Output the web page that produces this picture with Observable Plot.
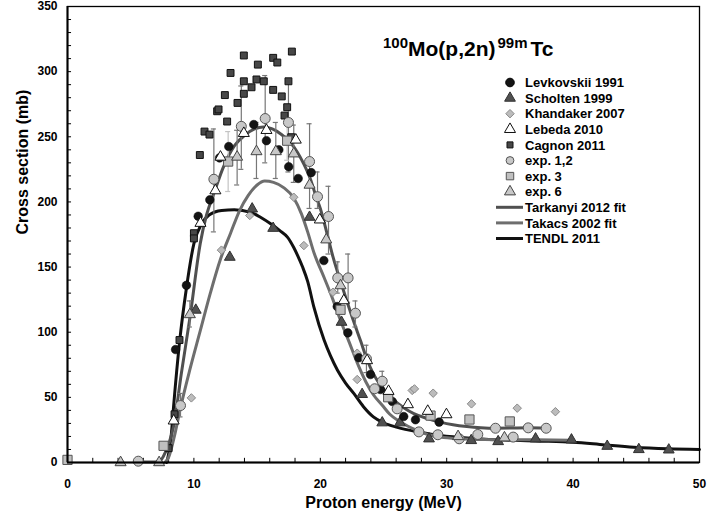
<!DOCTYPE html>
<html><head><meta charset="utf-8">
<script src="https://cdn.jsdelivr.net/npm/d3@7"></script>
<script src="https://cdn.jsdelivr.net/npm/@observablehq/plot@0.6"></script>
<style>
body{margin:0;background:#fff;}
#chart{position:relative;width:708px;height:519px;}
#chart svg{position:absolute;left:0;top:0;}
</style></head><body><div id="chart"></div>
<script>
// ---- data (E in MeV, cross section in mb) ----
const levkovskii = [[8.55,86.7],[9.41,136],[10.34,189],[11.26,201.6],[12.03,233.8],[12.76,242.5],[14.74,259.4],[15.74,247],[16.72,240],[17.5,227],[18.25,218],[19.28,222.5],[20.28,155],[21.34,119.7],[22.18,99.5],[23.05,80.4],[23.97,67.5],[24.76,56],[25.7,46.8],[26.6,35.3],[27.53,32.8],[29.4,31]];
const scholten = [[10.15,117],[12.84,157.6],[14.61,194.7],[16.27,179.8],[19.15,188.3],[21.68,107.7],[23.31,52.3],[24.9,30.5],[26.3,30.5],[28.6,18.2],[31.94,16.9],[34.07,16.1],[37.03,18.2],[39.87,17.4],[42.7,12.5],[45.2,10],[47.57,9.7]];
const khandaker = [[9.8,49.6],[12.18,163],[14.42,189.6],[17.9,203.6],[18.7,166.5],[21.0,130.7],[22.92,83.9],[22.92,63.7],[27.27,55.3],[27.45,56.5],[28.93,53.2],[31.96,45],[35.58,41.7],[38.6,39]];
const lebeda = [[8.4,32],[10.52,183.7],[11.7,208.7],[12.1,234.5],[13.95,252.7],[15.74,255],[18.06,247.6],[19.96,186.3],[21.86,124.3],[23.7,78.3],[25.4,54.7],[26.93,44.5],[28.5,39.4],[29.98,36.8]];
const cagnon = [[8.0,11],[8.47,37],[8.86,94],[10.0,176],[10.0,172],[10.47,236],[10.84,254],[11.23,251.7],[11.84,269.6],[11.95,271],[12.45,282],[12.63,261.7],[12.9,299],[13.45,276],[13.95,312.4],[13.95,292.6],[13.95,283],[14.56,288],[14.95,294],[15.06,305.4],[15.53,292.6],[16.27,310.6],[16.6,307],[16.27,286],[16.95,281],[17.17,266.3],[17.38,272.7],[17.48,292.6],[17.7,249.7],[17.75,315.4]];
const exp12 = [[5.6,1],[8.94,43.7],[11.58,217.4],[13.75,258],[15.64,264],[17.48,261],[19.15,231],[19.78,204],[20.65,188.8],[21.38,141.7],[22.2,141.7],[22.78,114.6],[23.65,79.6],[24.3,56.6],[24.9,62.4],[26.08,41.2],[27.8,23.5],[29.3,21.3],[30.99,18.2],[32.46,21.5],[33.86,26.3],[35.26,19.5],[36.45,26.6],[37.87,26.3]];
const exp3 = [[0,2],[7.6,12.8],[12.71,231],[17.38,247],[21.6,117.2],[25.37,50.1],[28.72,36],[31.8,33],[34.99,31.5]];
const exp6 = [[4.2,0],[7.25,0],[9.68,113.6],[13.42,234.5],[14.95,238.7],[16.48,238.7],[17.9,237],[19.15,213],[20.47,171],[21.6,135.8],[30.9,20],[34.57,19]];
// error bars [E, low, high]
const err12 = [[8.94,35,53],[11.58,177,256],[13.75,225,289],[15.64,230,297],[17.48,223,293],[19.15,195,260],[19.78,195,223],[20.65,160,212],[21.38,130,154],[22.2,123,160],[22.78,104,124],[23.65,69,90],[24.9,55,70]];
const err3 = [[12.71,208,254],[17.38,232,262]];
const err6 = [[9.68,104,124],[13.42,213,255],[14.95,218,261],[16.48,218,261],[17.9,215,259]];
// curves
const tarkanyiFit = [[5.6,0.8],[6.5,0.3],[7.25,0.5],[7.6,5],[8.0,14],[8.4,28],[9.0,68],[9.7,112],[10.5,168],[11.0,190],[11.6,207],[12.3,226],[13.2,243],[14.0,251],[14.8,256],[15.5,257.5],[16.2,256],[16.9,252],[17.6,246],[18.2,238],[18.7,229],[19.2,218],[19.7,203],[20.0,195],[20.5,177],[21.0,158],[21.6,139],[22.1,124],[22.65,108],[23.2,93],[23.7,79],[24.2,68],[24.8,59],[25.3,53],[25.8,48],[26.6,42],[27.4,37.5],[28.4,34],[29.5,31],[30.5,29],[31.6,27.6],[32.7,26.7],[33.86,26.3],[35,26.4],[36.45,26.6],[37.87,26.3]];
const takacsFit = [[7.7,0],[8.0,4],[8.5,22],[8.94,42],[9.7,72],[10.5,101],[11.3,130],[12.1,156],[12.9,176],[13.6,193],[14.3,205],[15.0,213],[15.6,216],[16.3,215],[17.1,211],[17.9,203],[18.5,191],[19.0,177],[19.5,161],[20.3,142],[21.0,125],[21.6,109],[22.3,92],[22.9,77],[23.6,62],[24.2,52],[24.9,44],[25.5,37],[26.2,32],[26.9,28],[27.8,24],[28.5,21.5],[29.5,19.5],[31,18.2],[33,17.6],[35,17.5],[37,17.4],[40,17]];
const tendl = [[7.85,0],[8.2,20],[8.41,45],[8.86,92],[9.41,134],[10.0,168],[10.6,183],[11.2,190],[12.2,193.5],[13.2,194],[14.5,192],[15.3,188],[16.1,183],[16.8,178],[17.4,173],[17.9,165],[18.2,159],[18.6,150],[19.0,139],[19.5,119],[20.3,94],[20.8,82],[21.35,71],[22.0,61],[22.65,53],[23.4,43],[24.2,35],[25.0,30.5],[26.1,27],[27.9,23.3],[29.5,20.7],[32,18.5],[34.3,17.4],[37,16.5],[40,15.6],[42.5,13.5],[44.8,11.7],[47.5,10.5],[50,10]];
// ticks & labels
const xTicks = [0,10,20,30,40,50];
const yTicks = [0,50,100,150,200,250,300,350];
const xMinor = d3.range(0, 51, 2);
const yMinor = d3.range(0, 351, 10);
const legendLabels = ["Levkovskii 1991","Scholten 1999","Khandaker 2007","Lebeda 2010","Cagnon 2011","exp. 1,2","exp. 3","exp. 6","Tarkanyi 2012 fit","Takacs 2002 fit","TENDL 2011"];

// ---- build ----
const P = a => a.map(([x,y]) => ({x,y}));
const E = a => a.map(([x,lo,hi]) => ({x,lo,hi}));
const font = "'Liberation Sans', Arial, Helvetica, sans-serif";

const errMarks = (data, color) => [
  Plot.ruleX(E(data), {x:"x", y1:"lo", y2:"hi", stroke:color, strokeWidth:1.2}),
  Plot.ruleY(E(data), {y:"hi", x1:d=>d.x-0.2, x2:d=>d.x+0.2, stroke:color, strokeWidth:1.2}),
  Plot.ruleY(E(data), {y:"lo", x1:d=>d.x-0.2, x2:d=>d.x+0.2, stroke:color, strokeWidth:1.2})
];

const plot = Plot.plot({
  width:708, height:519,
  marginLeft:67, marginRight:9, marginTop:6, marginBottom:57,
  style:{fontFamily:font, fontWeight:"bold", fontSize:"12px", color:"#000", background:"#fff"},
  x:{domain:[0,50]},
  y:{domain:[0,350]},
  marks:[
    Plot.axisX({ticks:xTicks, tickSize:0, tickPadding:17, label:null, tickFormat:d=>d}),
    Plot.axisY({ticks:yTicks, tickSize:0, tickPadding:10, label:null, tickFormat:d=>d}),
    Plot.ruleX(xMinor, {y1:0, y2:3.2, stroke:"#000", strokeWidth:1}),
    Plot.ruleY(yMinor, {x1:0, x2:0.32, stroke:"#000", strokeWidth:1}),
    Plot.line(P(tendl), {x:"x", y:"y", stroke:"#111", strokeWidth:3, curve:"monotone-x"}),
    Plot.line(P(takacsFit), {x:"x", y:"y", stroke:"#6e6e6e", strokeWidth:3, curve:"monotone-x"}),
    Plot.line(P(tarkanyiFit), {x:"x", y:"y", stroke:"#505050", strokeWidth:3, curve:"monotone-x"}),
    ...errMarks(err12, "#777"),
    ...errMarks(err6, "#777"),
    ...errMarks(err3, "#c4c4c4"),
    Plot.dot(P(cagnon), {x:"x", y:"y", symbol:"square", r:3.9, fill:"#474747", stroke:"#111", strokeWidth:1}),
    Plot.dot(P(khandaker), {x:"x", y:"y", symbol:"diamond2", r:3.8, fill:"#bcbcbc", stroke:"#8a8a8a", strokeWidth:1}),
    Plot.dot(P(scholten), {x:"x", y:"y", symbol:"triangle", r:4, fill:"#505050", stroke:"#303030", strokeWidth:1}),
    Plot.dot(P(levkovskii), {x:"x", y:"y", r:4.3, fill:"#141414", stroke:"#000", strokeWidth:0.5}),
    Plot.dot(P(exp3), {x:"x", y:"y", symbol:"square", r:5.2, fill:"#c0c0c0", stroke:"#555", strokeWidth:1}),
    Plot.dot(P(exp12), {x:"x", y:"y", r:5, fill:"#c8c8c8", stroke:"#555", strokeWidth:1}),
    Plot.dot(P(exp6), {x:"x", y:"y", symbol:"triangle", r:4.1, fill:"#c8c8c8", stroke:"#444", strokeWidth:1}),
    Plot.dot(P(lebeda), {x:"x", y:"y", symbol:"triangle", r:4.1, fill:"#fff", stroke:"#111", strokeWidth:1}),
    Plot.frame({stroke:"#000", strokeWidth:1.3}),
    Plot.ruleX([0], {stroke:"#000", strokeWidth:2}),
    Plot.ruleY([0], {stroke:"#000", strokeWidth:2}),
    Plot.text(["Proton energy (MeV)"], {frameAnchor:"bottom", dy:45, fontSize:16, fontWeight:"bold"}),
    Plot.text(["Cross section (mb)"], {frameAnchor:"left", dx:-45, rotate:-90, fontSize:16, fontWeight:"bold"})
  ]
});
document.getElementById("chart").appendChild(plot);

// ---- overlay: title + legend (layout only) ----
const ov = d3.select("#chart").append("svg").attr("width",708).attr("height",519)
  .style("font-family", font).style("font-weight","bold").style("pointer-events","none");
const t = ov.append("text").attr("x",383).attr("y",56).attr("font-size",21).attr("fill","#000");
t.append("tspan").attr("font-size",15).attr("dy",-8).text("100");
t.append("tspan").attr("dy",8).text("Mo(p,2n)");
t.append("tspan").attr("font-size",15).attr("dy",-8).attr("dx",2).text("99m");
t.append("tspan").attr("dy",8).attr("dx",3).text("Tc");

const styles = [
  {sym:d3.symbolCircle, r:4.3, fill:"#141414", stroke:"#000"},
  {sym:d3.symbolTriangle, r:4, fill:"#505050", stroke:"#303030"},
  {sym:d3.symbolDiamond2, r:3.8, fill:"#bcbcbc", stroke:"#8a8a8a"},
  {sym:d3.symbolTriangle, r:4.1, fill:"#fff", stroke:"#111"},
  {sym:d3.symbolSquare, r:3.4, fill:"#474747", stroke:"#111"},
  {sym:d3.symbolCircle, r:3.9, fill:"#c8c8c8", stroke:"#555"},
  {sym:d3.symbolSquare, r:4.2, fill:"#c0c0c0", stroke:"#555"},
  {sym:d3.symbolTriangle, r:4.1, fill:"#c8c8c8", stroke:"#444"},
  {line:"#505050"}, {line:"#6e6e6e"}, {line:"#111"}
];
legendLabels.forEach((lab, i) => {
  const y = 82.5 + i*15.6;
  const s = styles[i];
  if (s.line) {
    ov.append("line").attr("x1",496).attr("x2",523).attr("y1",y).attr("y2",y)
      .attr("stroke",s.line).attr("stroke-width",3);
  } else {
    ov.append("path").attr("transform",`translate(510,${y})`)
      .attr("d", d3.symbol(s.sym, Math.PI*s.r*s.r)())
      .attr("fill",s.fill).attr("stroke",s.stroke).attr("stroke-width",1);
  }
  ov.append("text").attr("x",525).attr("y",y).attr("dy","0.36em").attr("font-size",13).attr("fill","#000").text(lab);
});
</script></body></html>
